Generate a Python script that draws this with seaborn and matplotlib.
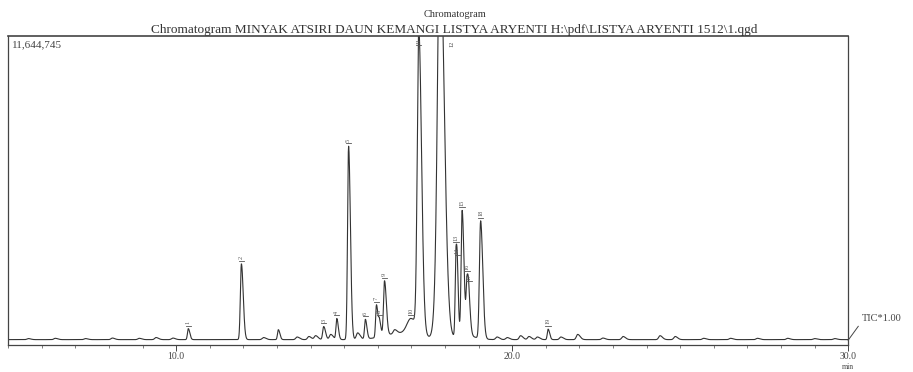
import numpy as np
import pandas as pd
import seaborn as sns
import matplotlib.pyplot as plt

## peaks (retention time in min, height in counts)
peak_time = [10.36, 11.94, 13.04, 14.39, 14.78, 15.13, 15.63, 15.96, 16.05, 16.20,
             16.99, 17.22, 17.75, 17.85, 18.33, 18.37, 18.51, 18.66, 18.71, 19.06, 21.07]
peak_height = [0.42e6, 2.9e6, 0.38e6, 0.50e6, 0.80e6, 7.4e6, 0.75e6, 1.25e6, 0.55e6, 2.1e6,
               0.6e6, 11.4e6, 1.4e6, 14.5e6, 3.4e6, 0.7e6, 4.8e6, 2.1e6, 0.6e6, 4.5e6, 0.40e6]
peak_sigma = [0.025, 0.03, 0.025, 0.03, 0.025, 0.03, 0.025, 0.025, 0.025, 0.03,
              0.12, 0.045, 0.08, 0.07, 0.025, 0.02, 0.03, 0.03, 0.03, 0.035, 0.025]

# small bumps along the baseline
bump_time = [5.6, 6.4, 7.3, 8.1, 8.9, 9.4, 9.9, 12.6, 13.6, 13.95, 14.15, 14.6, 15.4,
             16.5, 19.55, 19.85, 20.25, 20.5, 20.75, 21.45, 21.95, 22.7, 23.3, 24.4,
             24.85, 25.7, 26.5, 27.3, 28.2, 29.0, 29.6]
bump_height = [0.04e6, 0.05e6, 0.04e6, 0.06e6, 0.05e6, 0.08e6, 0.06e6, 0.08e6, 0.1e6, 0.12e6,
               0.15e6, 0.2e6, 0.25e6, 0.15e6, 0.1e6, 0.08e6, 0.15e6, 0.12e6, 0.1e6, 0.1e6,
               0.2e6, 0.06e6, 0.12e6, 0.15e6, 0.12e6, 0.05e6, 0.05e6, 0.05e6, 0.05e6, 0.04e6, 0.04e6]

# peaks carrying an identification marker
label_time = [10.36, 11.94, 14.39, 14.78, 15.13, 15.63, 15.96, 16.05, 16.20, 16.99, 17.22,
              17.85, 18.33, 18.37, 18.51, 18.66, 18.71, 19.06, 21.07]
label_text = [str(i + 1) for i in range(len(label_time))]

y_top = 11644745

t = np.linspace(5.0, 30.0, 6000)
signal = np.full_like(t, 0.03e6)
for tr, h, s in zip(peak_time + bump_time, peak_height + bump_height,
                    peak_sigma + [0.04] * len(bump_time)):
    sig = np.where(t < tr, s, s * 1.8)  # tailing
    signal += h * np.exp(-0.5 * ((t - tr) / sig) ** 2)
# slow rise of the baseline under the main cluster
signal += 0.25e6 * np.exp(-0.5 * ((t - 16.7) / 0.5) ** 2)
signal += 0.15e6 * np.exp(-0.5 * ((t - 18.6) / 0.3) ** 2)

df = pd.DataFrame({'time': t, 'tic': signal})

plt.rcParams['font.family'] = ['Liberation Serif', 'DejaVu Serif']
fig = plt.figure(figsize=(9.13, 3.72), dpi=100)
ax = fig.add_axes([0.009, 0.073, 0.92, 0.83])

sns.lineplot(data=df, x='time', y='tic', ax=ax, color='#333333', linewidth=0.8)

ax.set_xlim(5.0, 30.0)
ax.set_ylim(-0.17e6, y_top)
ax.set_xlabel('')
ax.set_ylabel('')
ax.set_yticks([])
ax.set_xticks([10, 20, 30])
ax.set_xticklabels(['10.0', '20.0', '30.0'], fontsize=7, color='#444444')
ax.set_xticks(np.arange(5, 31, 1), minor=True)
ax.tick_params(axis='x', which='major', length=4, width=0.7, color='#444444', pad=1)
ax.tick_params(axis='x', which='minor', length=2, width=0.6, color='#666666')
for sp in ax.spines.values():
    sp.set_color('#444444')
    sp.set_linewidth(0.9)
ax.spines['top'].set_linewidth(1.2)

# peak markers
for lt, lab in zip(label_time, label_text):
    yv = np.interp(lt, t, signal)
    if lt == 17.85:
        ax.text(lt + 0.35, y_top * 0.985, lab, fontsize=4.5, ha='center', va='top',
                rotation=90, color='#444444')
        continue
    yv = min(yv, y_top * 0.96)
    ax.plot([lt - 0.08, lt + 0.08], [yv + 0.12e6] * 2, color='#555555', lw=0.6)
    ax.text(lt, yv + 0.18e6, lab, fontsize=4.5, ha='center', va='bottom',
            rotation=90, color='#555555')

ax.text(0.004, 0.985, '11,644,745', transform=ax.transAxes, fontsize=8,
        ha='left', va='top', color='#444444')
ax.text(1.0, -0.072, 'min', transform=ax.transAxes, fontsize=5.5, ha='center',
        va='center', color='#444444')

# TIC tag on the right
ax.plot([1.0, 1.012], [0.015, 0.06], transform=ax.transAxes, color='#444444',
        lw=0.7, clip_on=False)
ax.text(1.016, 0.085, 'TIC*1.00', transform=ax.transAxes, fontsize=7.5,
        ha='left', va='center', color='#444444')

fig.text(0.498, 0.962, 'Chromatogram', fontsize=7.5, ha='center', va='center', color='#333333')
fig.text(0.498, 0.92,
         'Chromatogram MINYAK ATSIRI DAUN KEMANGI LISTYA ARYENTI H:\\pdf\\LISTYA ARYENTI 1512\\1.qgd',
         fontsize=9.5, ha='center', va='center', color='#333333')

fig.savefig('out.png', dpi=100)
